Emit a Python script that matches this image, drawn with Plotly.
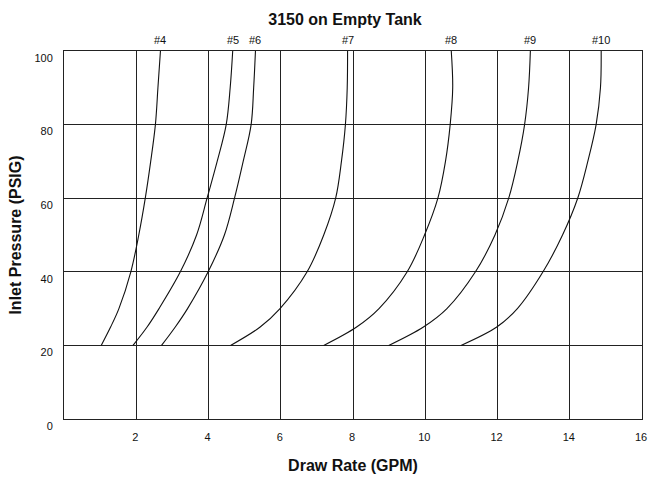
import plotly.graph_objects as go

# ---- data ----
pressure = [20, 25, 30, 40, 50, 60, 70, 80, 90, 100]   # Inlet pressure (PSIG)
nozzle_4 = [1.03, 1.29, 1.52, 1.85, 2.07, 2.25, 2.40, 2.53, 2.60, 2.67]
nozzle_5 = [1.91, 2.30, 2.63, 3.22, 3.67, 3.96, 4.24, 4.49, 4.60, 4.67]
nozzle_6 = [2.70, 3.08, 3.42, 3.99, 4.44, 4.72, 4.96, 5.18, 5.25, 5.30]
nozzle_7 = [4.61, 5.43, 5.98, 6.73, 7.19, 7.52, 7.68, 7.79, 7.84, 7.85]
nozzle_8 = [7.19, 8.10, 8.72, 9.50, 9.98, 10.35, 10.56, 10.69, 10.76, 10.72]
nozzle_9 = [8.99, 9.95, 10.60, 11.39, 11.93, 12.31, 12.56, 12.75, 12.86, 12.91]
nozzle_10 = [10.99, 11.98, 12.55, 13.26, 13.80, 14.22, 14.50, 14.73, 14.85, 14.87]

series_names = ["#4", "#5", "#6", "#7", "#8", "#9", "#10"]
series_values = [nozzle_4, nozzle_5, nozzle_6, nozzle_7, nozzle_8, nozzle_9, nozzle_10]

x_ticks = [2, 4, 6, 8, 10, 12, 14, 16]
y_ticks = [0, 20, 40, 60, 80, 100]

FONT = "Liberation Sans, Arial, Helvetica, sans-serif"

fig = go.Figure()
for name, vals in zip(series_names, series_values):
    fig.add_trace(go.Scatter(
        x=vals, y=pressure, mode="lines", name=name,
        line=dict(color="#111111", width=1.1, shape="spline", smoothing=1.0),
        showlegend=False, hoverinfo="skip",
    ))
    fig.add_annotation(
        x=vals[-1], xref="x", y=1, yref="paper", yanchor="middle", yshift=11,
        text=name, showarrow=False,
        font=dict(family=FONT, size=11, color="#111111"),
    )

fig.update_layout(
    width=651, height=477,
    margin=dict(l=63.5, r=9.3, t=50.7, b=57.7, autoexpand=False),
    paper_bgcolor="white", plot_bgcolor="white",
    title=dict(text="<b>3150 on Empty Tank</b>", x=345 / 651, xanchor="center",
               xref="container", y=1 - 19 / 477, yanchor="middle", yref="container",
               font=dict(family=FONT, size=16, color="#111111")),
    font=dict(family=FONT, size=11, color="#111111"),
)
fig.update_xaxes(
    range=[0, 16], tickvals=x_ticks, ticktext=[str(v) for v in x_ticks],
    showgrid=True, gridcolor="#222222", gridwidth=1,
    showline=True, linecolor="#222222", linewidth=1, mirror=True,
    zeroline=False, ticks="", ticklabelstandoff=8, ticklabelshift=-1,
    tickfont=dict(family=FONT, size=11, color="#111111"),
    title=dict(text="<b>Draw Rate (GPM)</b>", standoff=17,
               font=dict(family=FONT, size=16, color="#111111")),
    automargin=False, fixedrange=True,
)
fig.update_yaxes(
    range=[0, 100], tickvals=y_ticks, ticktext=[str(v) for v in y_ticks],
    showgrid=True, gridcolor="#222222", gridwidth=1,
    showline=True, linecolor="#222222", linewidth=1, mirror=True,
    zeroline=False, ticks="", ticklabelstandoff=8, ticklabelshift=7,
    tickfont=dict(family=FONT, size=11, color="#111111"),
    title=dict(text="<b>Inlet Pressure (PSIG)</b>", standoff=8,
               font=dict(family=FONT, size=16, color="#111111")),
    automargin=False, fixedrange=True,
)

fig.write_html(
    "out.html",
    config={"displayModeBar": False, "staticPlot": True},
    post_script="document.body.style.margin='0px';document.body.style.overflow='hidden';",
)
